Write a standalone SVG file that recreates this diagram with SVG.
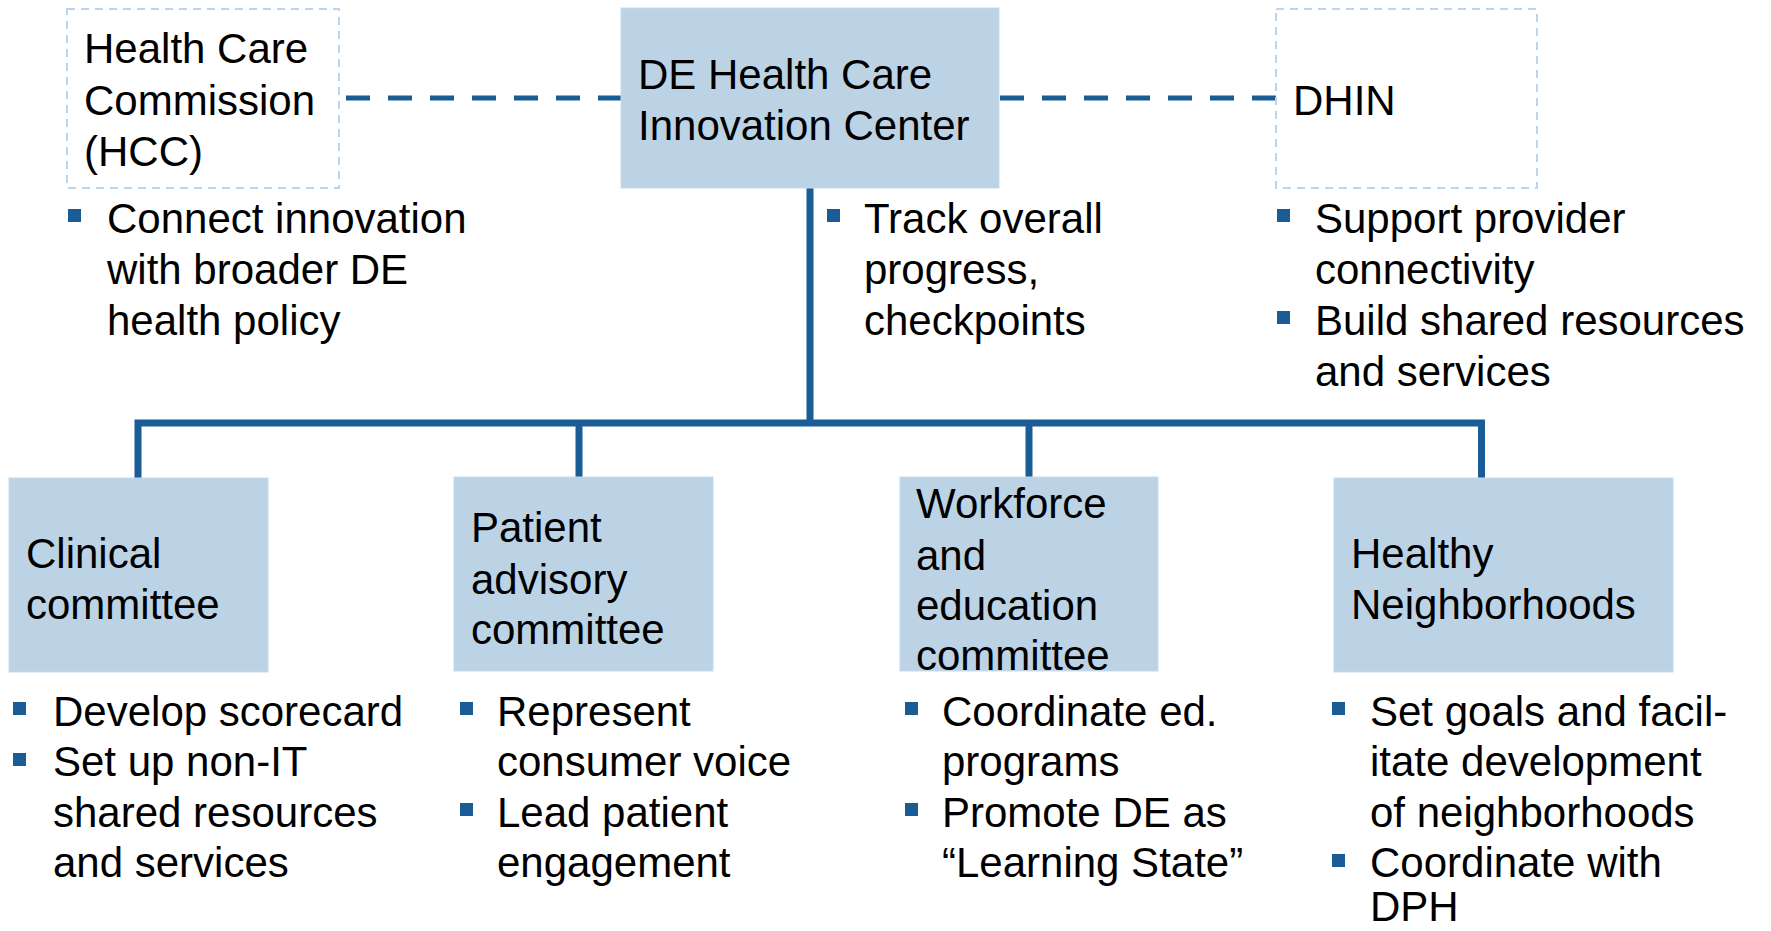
<svg xmlns="http://www.w3.org/2000/svg" width="1771" height="931" viewBox="0 0 1771 931">
  <style>
    text { font-family: "Liberation Sans", Arial, Helvetica, sans-serif; font-size: 42px; fill: #000; }
    .box { fill: #bcd3e6; stroke: #c6dbec; stroke-width: 1; }
    .ghost { fill: none; stroke: #bdd5ea; stroke-width: 2; stroke-dasharray: 8 6; }
    .bullet { fill: #1a5c96; }
    .link { fill: none; stroke: #1a5c96; stroke-width: 7; stroke-linejoin: miter; }
    .dash { fill: none; stroke: #1a5c96; stroke-width: 5; stroke-dasharray: 24 18; }
  </style>
  <rect width="1771" height="931" fill="#fff"/>

  <!-- connectors -->
  <g id="connectors">
    <line class="dash" x1="346" y1="98" x2="622" y2="98"/>
    <line class="dash" x1="1000" y1="98" x2="1276" y2="98"/>
    <path class="link" d="M810 188 V423"/>
    <path class="link" d="M138 478 V423 H1481.5 V478"/>
    <path class="link" d="M579 423 V478"/>
    <path class="link" d="M1029 423 V478"/>
  </g>

  <!-- top row -->
  <g id="hcc">
    <rect class="ghost" x="67" y="9" width="272" height="179"/>
    <text x="84" y="63">Health Care<tspan x="84" y="115">Commission</tspan><tspan x="84" y="166">(HCC)</tspan></text>
    <rect class="bullet" x="68" y="209" width="13" height="13"/>
    <text x="107" y="233">Connect innovation<tspan x="107" y="284">with broader DE</tspan><tspan x="107" y="335">health policy</tspan></text>
  </g>

  <g id="innovation-center">
    <rect class="box" x="621" y="8" width="378" height="180"/>
    <text x="638" y="89">DE Health Care<tspan x="638" y="140">Innovation Center</tspan></text>
    <rect class="bullet" x="827" y="209" width="13" height="13"/>
    <text x="864" y="233">Track overall<tspan x="864" y="284">progress,</tspan><tspan x="864" y="335">checkpoints</tspan></text>
  </g>

  <g id="dhin">
    <rect class="ghost" x="1276" y="9" width="261" height="179"/>
    <text x="1293" y="115">DHIN</text>
    <rect class="bullet" x="1277" y="209" width="13" height="13"/>
    <rect class="bullet" x="1277" y="311" width="13" height="13"/>
    <text x="1315" y="233">Support provider<tspan x="1315" y="284">connectivity</tspan><tspan x="1315" y="335">Build shared resources</tspan><tspan x="1315" y="386">and services</tspan></text>
  </g>

  <!-- committees -->
  <g id="clinical">
    <rect class="box" x="9" y="478" width="259" height="194"/>
    <text x="26" y="568">Clinical<tspan x="26" y="619">committee</tspan></text>
    <rect class="bullet" x="13" y="702" width="13" height="13"/>
    <rect class="bullet" x="13" y="753" width="13" height="13"/>
    <text x="53" y="726">Develop scorecard<tspan x="53" y="776">Set up non-IT</tspan><tspan x="53" y="827">shared resources</tspan><tspan x="53" y="877">and services</tspan></text>
  </g>

  <g id="patient-advisory">
    <rect class="box" x="454" y="477" width="259" height="194"/>
    <text x="471" y="542">Patient<tspan x="471" y="594">advisory</tspan><tspan x="471" y="644">committee</tspan></text>
    <rect class="bullet" x="460" y="702" width="13" height="13"/>
    <rect class="bullet" x="460" y="803" width="13" height="13"/>
    <text x="497" y="726">Represent<tspan x="497" y="776">consumer voice</tspan><tspan x="497" y="827">Lead patient</tspan><tspan x="497" y="877">engagement</tspan></text>
  </g>

  <g id="workforce">
    <rect class="box" x="900" y="477" width="258" height="194"/>
    <text x="916" y="518">Workforce<tspan x="916" y="570">and</tspan><tspan x="916" y="620">education</tspan><tspan x="916" y="670">committee</tspan></text>
    <rect class="bullet" x="905" y="702" width="13" height="13"/>
    <rect class="bullet" x="905" y="803" width="13" height="13"/>
    <text x="942" y="726">Coordinate ed.<tspan x="942" y="776">programs</tspan><tspan x="942" y="827">Promote DE as</tspan><tspan x="942" y="877">“Learning State”</tspan></text>
  </g>

  <g id="healthy-neighborhoods">
    <rect class="box" x="1334" y="478" width="339" height="194"/>
    <text x="1351" y="568">Healthy<tspan x="1351" y="619">Neighborhoods</tspan></text>
    <rect class="bullet" x="1332" y="702" width="13" height="13"/>
    <rect class="bullet" x="1332" y="854" width="13" height="13"/>
    <text x="1370" y="726">Set goals and facil-<tspan x="1370" y="776">itate development</tspan><tspan x="1370" y="827">of neighborhoods</tspan><tspan x="1370" y="877">Coordinate with</tspan><tspan x="1370" y="921">DPH</tspan></text>
  </g>
</svg>
